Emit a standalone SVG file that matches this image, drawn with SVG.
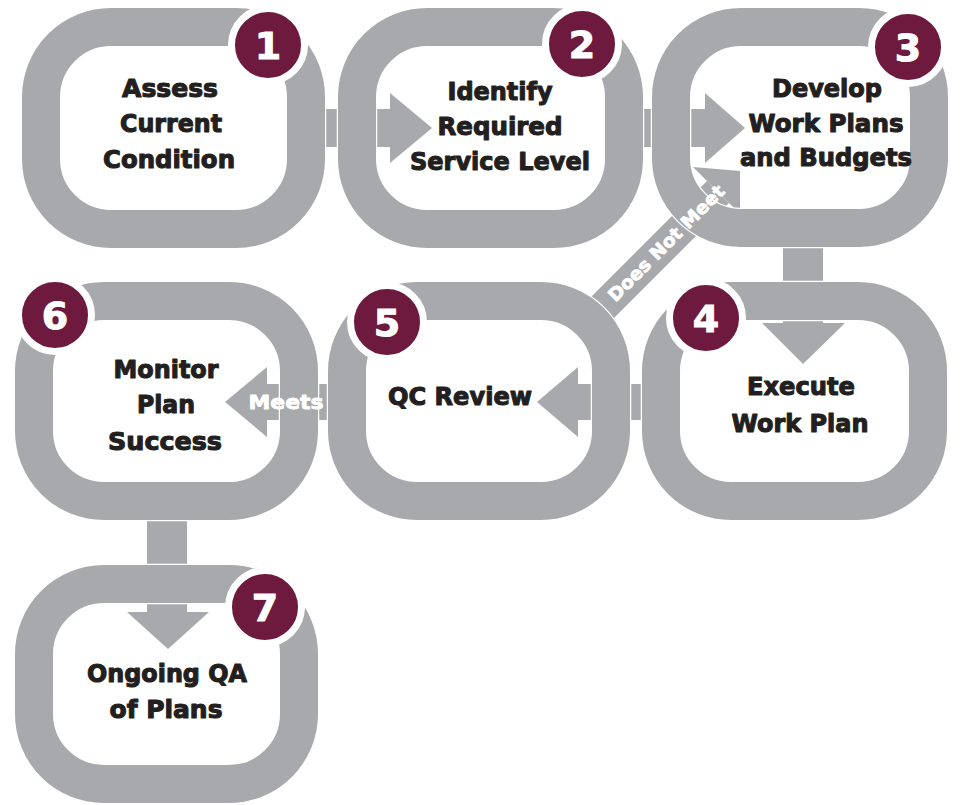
<svg xmlns="http://www.w3.org/2000/svg" width="961" height="805" viewBox="0 0 961 805">
  <style>
    .edge { fill: none; stroke: #ffffff; stroke-width: 40.5; }
    .ring { fill: none; stroke: #a7a9ac; stroke-width: 38; }
    .bar { fill: #a7a9ac; }
    .badge { fill: #6e1a3f; stroke: #ffffff; stroke-width: 7; }
    .num { font-family: "DejaVu Sans", "Liberation Sans", sans-serif; font-weight: bold; font-size: 38px; fill: #ffffff; stroke: #ffffff; stroke-width: 1; text-anchor: middle; }
    .lbl { font-family: "DejaVu Sans", "Liberation Sans", sans-serif; font-weight: bold; font-size: 25px; fill: #231f20; stroke: #231f20; stroke-width: 1.1; stroke-linejoin: round; text-anchor: middle; }
    .clbl { font-family: "DejaVu Sans", "Liberation Sans", sans-serif; font-weight: bold; fill: #ffffff; stroke: #ffffff; stroke-width: 0.8; stroke-linejoin: round; text-anchor: middle; }
  </style>
  <rect x="0" y="0" width="961" height="805" fill="#ffffff"/>

  <g id="connectors">
    <!-- 1 -> 2 -->
    <rect class="bar" x="306" y="109" width="86" height="38"/>
    <polygon class="bar" points="390,93 432,128 390,163"/>
    <!-- 2 -> 3 -->
    <rect class="bar" x="624" y="109" width="83" height="38"/>
    <polygon class="bar" points="705,93 745,128 705,163"/>
    <!-- 3 -> 4 -->
    <rect class="bar" x="783" y="228" width="40" height="97"/>
    <polygon class="bar" points="762,323 845,323 803,364"/>
    <!-- 4 -> 5 -->
    <rect class="bar" x="576" y="384" width="85" height="36"/>
    <polygon class="bar" points="578,367 578,437 537,402"/>
    <!-- 5 -> 6 (Meets) -->
    <rect class="bar" x="265" y="384" width="82" height="36"/>
    <polygon class="bar" points="267,367 267,437 225,402"/>
    <!-- 6 -> 7 -->
    <rect class="bar" x="147" y="501" width="40" height="113"/>
    <polygon class="bar" points="127,612 209,612 168,649"/>
    <!-- 5 -> 3 (Does Not Meet) -->
    <polygon class="bar" points="579,309 601,331 729,203 707,181"/>
    <polygon class="bar" points="693,167 740,171 740,214"/>
  </g>

  <g id="node1">
    <rect class="edge" x="41" y="27" width="265" height="202" rx="70"/>
    <rect class="ring" x="41" y="27" width="265" height="202" rx="70"/>
    <circle class="badge" cx="268" cy="45" r="36.5"/>
    <text class="num" x="268" y="59">1</text>
    <text class="lbl" x="170" y="97" textLength="96" lengthAdjust="spacingAndGlyphs">Assess</text>
    <text class="lbl" x="171" y="132" textLength="102" lengthAdjust="spacingAndGlyphs">Current</text>
    <text class="lbl" x="169" y="168" textLength="132" lengthAdjust="spacingAndGlyphs">Condition</text>
  </g>

  <g id="node2">
    <rect class="edge" x="357" y="27" width="267" height="202" rx="70"/>
    <rect class="ring" x="357" y="27" width="267" height="202" rx="70"/>
    <circle class="badge" cx="582" cy="44" r="36.5"/>
    <text class="num" x="582" y="58">2</text>
    <text class="lbl" x="500" y="100" textLength="105" lengthAdjust="spacingAndGlyphs">Identify</text>
    <text class="lbl" x="500" y="135" textLength="125" lengthAdjust="spacingAndGlyphs">Required</text>
    <text class="lbl" x="500" y="170" textLength="180" lengthAdjust="spacingAndGlyphs">Service Level</text>
  </g>

  <g id="node3">
    <rect class="edge" x="671" y="27" width="258" height="201" rx="70"/>
    <rect class="ring" x="671" y="27" width="258" height="201" rx="70"/>
    <circle class="badge" cx="908" cy="47" r="36.5"/>
    <text class="num" x="908" y="61">3</text>
    <text class="lbl" x="827" y="97" textLength="110" lengthAdjust="spacingAndGlyphs">Develop</text>
    <text class="lbl" x="826" y="132" textLength="155" lengthAdjust="spacingAndGlyphs">Work Plans</text>
    <text class="lbl" x="826" y="166" textLength="172" lengthAdjust="spacingAndGlyphs">and Budgets</text>
  </g>

  <g id="node4">
    <rect class="edge" x="661" y="301" width="267" height="200" rx="70"/>
    <rect class="ring" x="661" y="301" width="267" height="200" rx="70"/>
    <circle class="badge" cx="706" cy="318" r="36.5"/>
    <text class="num" x="706" y="332">4</text>
    <text class="lbl" x="801" y="395" textLength="108" lengthAdjust="spacingAndGlyphs">Execute</text>
    <text class="lbl" x="800" y="432" textLength="137" lengthAdjust="spacingAndGlyphs">Work Plan</text>
  </g>

  <g id="node5">
    <rect class="edge" x="347" y="301" width="264" height="200" rx="70"/>
    <rect class="ring" x="347" y="301" width="264" height="200" rx="70"/>
    <circle class="badge" cx="387" cy="322" r="36.5"/>
    <text class="num" x="387" y="336">5</text>
    <text class="lbl" x="460" y="405" textLength="144" lengthAdjust="spacingAndGlyphs">QC Review</text>
  </g>

  <g id="node6">
    <rect class="edge" x="34" y="301" width="265" height="200" rx="70"/>
    <rect class="ring" x="34" y="301" width="265" height="200" rx="70"/>
    <circle class="badge" cx="55" cy="315" r="36.5"/>
    <text class="num" x="55" y="329">6</text>
    <text class="lbl" x="166" y="378" textLength="105" lengthAdjust="spacingAndGlyphs">Monitor</text>
    <text class="lbl" x="166" y="413" textLength="58" lengthAdjust="spacingAndGlyphs">Plan</text>
    <text class="lbl" x="165" y="450" textLength="114" lengthAdjust="spacingAndGlyphs">Success</text>
  </g>

  <g id="node7">
    <rect class="edge" x="34" y="584" width="265" height="200" rx="70"/>
    <rect class="ring" x="34" y="584" width="265" height="200" rx="70"/>
    <circle class="badge" cx="265" cy="607" r="36.5"/>
    <text class="num" x="265" y="621">7</text>
    <text class="lbl" x="167" y="682" textLength="160" lengthAdjust="spacingAndGlyphs">Ongoing QA</text>
    <text class="lbl" x="166" y="718" textLength="113" lengthAdjust="spacingAndGlyphs">of Plans</text>
  </g>

  <g id="connector-labels">
    <text class="clbl" x="286" y="409" font-size="20" textLength="75" lengthAdjust="spacingAndGlyphs">Meets</text>
    <text class="clbl" font-size="18" textLength="156" lengthAdjust="spacingAndGlyphs" transform="translate(666,243) rotate(-45)" x="0" y="6.5">Does Not Meet</text>
  </g>
</svg>
